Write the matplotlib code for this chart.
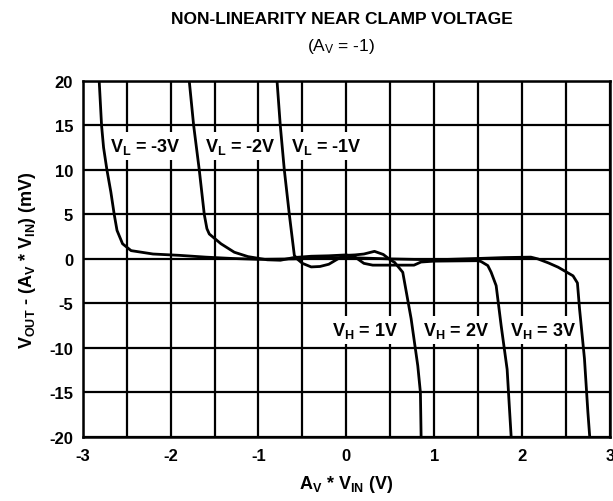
import matplotlib
matplotlib.use("Agg")
import matplotlib.pyplot as plt
import numpy as np

plt.rcParams['font.family'] = ['Liberation Sans', 'DejaVu Sans']
plt.rcParams['mathtext.fontset'] = 'custom'
plt.rcParams['mathtext.rm'] = 'Liberation Sans'
plt.rcParams['mathtext.bf'] = 'Liberation Sans:bold'
plt.rcParams['mathtext.it'] = 'Liberation Sans:italic'

# Clamp pair V_L = -1 V / V_H = 1 V
x_clamp1 = [-0.789, -0.752, -0.706, -0.649, -0.592, -0.56, -0.5, -0.4, -0.3, -0.2,
            -0.08, 0.0, 0.1, 0.2, 0.32, 0.42, 0.5, 0.55, 0.642, 0.737, 0.813, 0.843, 0.851]
y_clamp1 = [20, 15, 10, 5, 0.4, 0.0, -0.5, -0.9, -0.85, -0.6,
            0.1, 0.4, 0.45, 0.55, 0.85, 0.5, -0.1, -0.4, -1.5, -6.7, -12, -15, -20]

# Clamp pair V_L = -2 V / V_H = 2 V
x_clamp2 = [-1.788, -1.738, -1.674, -1.617, -1.587, -1.56, -1.427, -1.275, -1.12, -0.9,
            -0.75, -0.6, -0.4, -0.2, 0.0, 0.1, 0.2, 0.3, 0.77, 0.85, 1.0, 1.5,
            1.534, 1.61, 1.648, 1.705, 1.762, 1.83, 1.857, 1.876]
y_clamp2 = [20, 15, 10, 5, 3.4, 2.8, 1.7, 0.75, 0.26, -0.1,
            -0.15, 0.15, 0.3, 0.35, 0.45, 0.2, -0.5, -0.7, -0.7, -0.35, -0.25, -0.2,
            -0.3, -0.75, -1.5, -3, -7.5, -12.4, -16.9, -20]

# Clamp pair V_L = -3 V / V_H = 3 V
x_clamp3 = [-2.813, -2.786, -2.763, -2.725, -2.68, -2.642, -2.61, -2.547, -2.45, -2.2,
            -1.9, -1.6, -1.3, -1.0, -0.6, -0.3, 0.0, 0.5, 1.0, 1.5, 1.8, 2.1,
            2.18, 2.3, 2.41, 2.58, 2.63, 2.654, 2.71, 2.749, 2.77]
y_clamp3 = [20, 15, 12.5, 10, 7.5, 5, 3.2, 1.7, 0.93, 0.55,
            0.4, 0.2, 0.05, -0.05, 0.0, 0.1, 0.15, 0.0, -0.1, 0.05, 0.15, 0.2,
            0.0, -0.45, -0.93, -1.9, -2.7, -5.6, -11.2, -17.2, -20]

x_ticks = [-3, -2, -1, 0, 1, 2, 3]
y_ticks = [-20, -15, -10, -5, 0, 5, 10, 15, 20]

curve_labels = [r'$\mathbf{V}_\mathbf{L}$ = -3V', r'$\mathbf{V}_\mathbf{L}$ = -2V',
                r'$\mathbf{V}_\mathbf{L}$ = -1V', r'$\mathbf{V}_\mathbf{H}$ = 1V',
                r'$\mathbf{V}_\mathbf{H}$ = 2V', r'$\mathbf{V}_\mathbf{H}$ = 3V']
label_x = [-2.29, -1.21, -0.23, 0.215, 1.25, 2.24]
label_y = [12.7, 12.7, 12.7, -8.0, -8.0, -8.0]

fig = plt.figure(figsize=(6.13, 5.02), dpi=100)
ax = fig.add_axes([0.135, 0.1275, 0.86, 0.7095])

ax.set_xlim(-3, 3)
ax.set_ylim(-20, 20)
ax.set_xticks(x_ticks)
ax.set_xticks(np.arange(-2.5, 3, 1.0), minor=True)
ax.set_yticks(y_ticks)
ax.set_xticklabels([str(t) for t in x_ticks], fontweight='bold', fontsize=12)
ax.set_yticklabels([str(t) for t in y_ticks], fontweight='bold', fontsize=12)
ax.tick_params(axis='x', which='both', length=0, pad=8)
ax.tick_params(axis='y', which='both', length=0, pad=7)
ax.grid(True, which='both', color='black', linewidth=1.6, zorder=1)
ax.set_axisbelow(True)
for s in ax.spines.values():
    s.set_linewidth(1.8)

for xs, ys in [(x_clamp1, y_clamp1), (x_clamp2, y_clamp2), (x_clamp3, y_clamp3)]:
    ax.plot(xs, ys, color='black', linewidth=2.0, zorder=4, solid_joinstyle='round')

for txt, lx, ly in zip(curve_labels, label_x, label_y):
    ax.text(lx, ly, txt, ha='center', va='center', fontsize=13, fontweight='bold',
            zorder=3, bbox=dict(facecolor='white', edgecolor='none', pad=3))

ax.set_xlabel(r'$\mathbf{A}_\mathbf{V}$ * $\mathbf{V}_\mathbf{IN}$ (V)',
              fontsize=13, fontweight='bold', labelpad=7)
ax.set_ylabel(r'$\mathbf{V}_\mathbf{OUT}$ - ($\mathbf{A}_\mathbf{V}$ * $\mathbf{V}_\mathbf{IN}$) (mV)',
              fontsize=13, fontweight='bold', labelpad=8)

cx = 0.5 * (0.135 + 0.995) - 0.008
fig.text(cx, 1 - 20 / 502, 'NON-LINEARITY NEAR CLAMP VOLTAGE',
         ha='center', va='center', fontsize=12.5, fontweight='bold')
fig.text(cx, 1 - 46 / 502, r'(A$_\mathrm{V}$ = -1)',
         ha='center', va='center', fontsize=12.5)

fig.savefig('out.png', dpi=100)
